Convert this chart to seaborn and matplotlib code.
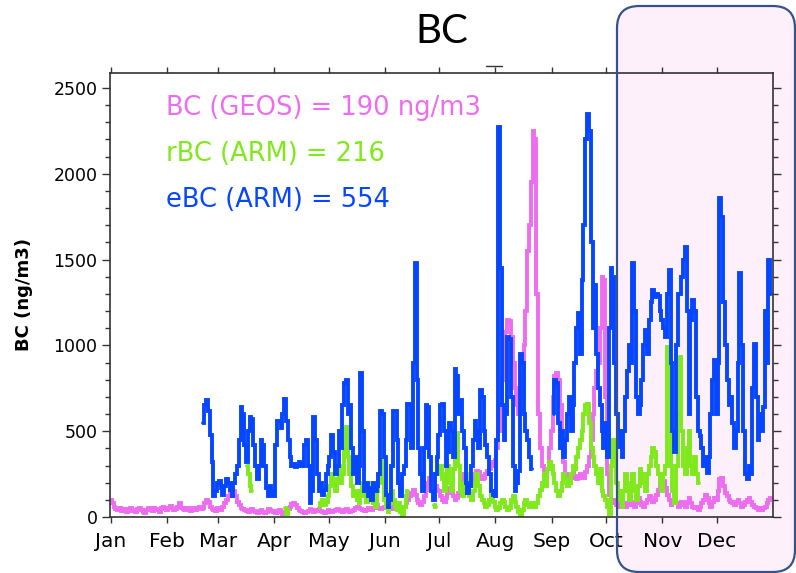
import numpy as np
import pandas as pd
import matplotlib
matplotlib.use("Agg")
import matplotlib.pyplot as plt
import seaborn as sns
from matplotlib.patches import FancyBboxPatch
from matplotlib.lines import Line2D
from matplotlib.transforms import IdentityTransform
from matplotlib.ticker import FixedLocator, MultipleLocator

nan = np.nan

month_names = ["Jan", "Feb", "Mar", "Apr", "May", "Jun",
               "Jul", "Aug", "Sep", "Oct", "Nov", "Dec"]
month_start = [0, 31, 59, 90, 120, 151, 181, 212, 243, 273, 304, 334]

# daily BC (ng/m3), index = day of year
geos_start = 0
geos_bc = [
    100, 80, 60, 45, 40, 50, 35, 45, 40, 30, 45, 50, 35, 40, 30, 45, 55, 40, 30, 25, 40, 55, 45, 35, 50, 45, 40, 30, 50, 60, 45,  # Jan
    40, 55, 65, 50, 40, 45, 60, 80, 55, 45, 40, 50, 45, 35, 50, 45, 40, 55, 60, 45, 50, 80, 100, 90, 60, 45, 40, 35,  # Feb
    50, 45, 40, 60, 80, 100, 120, 150, 165, 150, 120, 90, 70, 55, 45, 40, 35, 30, 40, 45, 35, 30, 25, 35, 40, 30, 25, 30, 45, 40, 35,  # Mar
    30, 25, 35, 40, 30, 20, 25, 30, 45, 60, 75, 80, 70, 55, 40, 35, 30, 25, 30, 35, 45, 40, 30, 35, 40, 45, 35, 30, 25, 30,  # Apr
    40, 35, 30, 35, 40, 45, 40, 35, 30, 40, 45, 35, 30, 35, 40, 50, 60, 55, 45, 40, 35, 40, 50, 45, 40, 50, 60, 70, 55, 45, 50,  # May
    60, 80, 70, 55, 45, 60, 80, 70, 50, 40, 45, 60, 80, 100, 120, 140, 160, 130, 100, 80, 70, 90, 120, 160, 200, 230, 250, 220, 180, 160,  # Jun
    150, 120, 100, 90, 110, 140, 170, 150, 120, 100, 110, 140, 180, 220, 250, 230, 200, 180, 200, 230, 250, 270, 260, 240, 220, 230, 250, 270, 280, 300, 320,  # Jul
    330, 400, 500, 650, 800, 950, 1080, 1150, 1140, 1050, 900, 750, 650, 600, 700, 850, 1000, 1200, 1550, 1700, 1950, 2250, 2200, 1300, 600, 400, 300, 260, 240, 280, 400,  # Aug
    500, 700, 820, 840, 800, 650, 450, 320, 250, 220, 200, 230, 260, 240, 220, 230, 250, 240, 230, 260, 300, 350, 450, 600, 750, 850, 900, 1100, 1400, 1380,  # Sep
    700, 250, 130, 100, 80, 100, 70, 60, 90, 110, 80, 60, 70, 100, 90, 70, 60, 80, 110, 90, 70, 60, 80, 100, 120, 110, 90, 100, 130, 160, 200,  # Oct
    200, 210, 170, 130, 100, 70, 80, 100, 80, 60, 70, 90, 80, 60, 90, 110, 80, 60, 50, 60, 40, 60, 80, 100, 130, 110, 80, 60, 90, 110,  # Nov
    100, 150, 220, 230, 180, 140, 120, 100, 90, 80, 70, 90, 100, 80, 60, 70, 90, 100, 110, 90, 70, 60, 50, 40, 50, 40, 50, 60, 80, 100, 110,  # Dec
]

rbc_start = 75
rbc_arm = [
    300, 250, 180, 150,
    nan, nan, nan, nan, nan, nan, nan, nan, nan, nan, nan, nan, nan, nan, nan, nan, nan,
    50, 20, 40,
    nan, nan, nan, nan, nan, nan, nan, nan, nan, nan, nan, nan, nan, nan, nan, nan,
    60, 80, 100, 70, 90, 120, 180, 250, 200, 150, 220, 300, 200, 250, 400, 525, 350, 250, 180, 120,
    150, 100, 80, 150, 200, 120, 90, 150, 200, 120, 80, 60, 150, 250, 330, 200, 100, 60, 30, 80,
    150, 100, 60, 40, 80, 30, 10, 60, 120, 150,
    nan, nan, nan, nan, nan, nan, nan, nan, nan, nan, nan, nan, nan,
    70, 60,
    nan,
    250, 300, 220, 150, 250, 300, 200, 150, 280, 400, 490, 300, 150, 120, 200, 250, 180, 120, 100, 150,
    200, 250, 180, 120, 100, 80, 60, 70, 100, 150, 90, 60,
    40, 50, 80, 100, 90, 60, 40, 50, 100, 120, 90, 60, 30, 10, 40, 80, 100, 70, 60, 80,
    70, 60, 80, 120, 160, 200, 250, 180, 280, 320,
    300, 250, 200, 150, 120, 150, 200, 250, 220, 180, 200, 250, 300, 280, 350, 400, 450, 500, 600, 650,
    660, 550, 400, 350, 300, 250, 200, 280, 150, 120,
    100, 60, 20, 300, 450, 350, 200, 150, 100, 60, 150, 250, 150, 100, 200, 250, 150, 100, 180, 280,
    250, 200, 150, 250, 300, 350, 400, 380, 300, 250, 200,
    150, 250, 300, 990, 700, 300, 150, 80, 300, 600, 930, 500, 300, 250, 400, 500, 300, 250, 350, 250, 200,
]

ebc_start = 51
ebc_arm = [
    550, 650, 680, 620, 480, 320, 120, 150, 200, 210, 170, 130, 180, 220, 200, 160, 120, 200, 250, 300,
    450, 640, 600, 420, 320, 500, 580, 570, 420, 300, 220, 300, 450, 420, 300, 170, 120, 180, 150, 120,
    420, 560, 560, 520, 600, 690, 560, 450, 350, 300, 310, 290, 300, 320, 310,
    300, 420, 450, 300, 80, 150, 580, 450, 250, 150, 200, 130, 160, 250, 300,
    350, 480, 380, 250, 300, 500, 400, 650, 780, 800, 600, 650, 400, 250, 350,
    200, 300, 840, 500, 150, 200, 120, 170, 100, 200, 150, 180, 250, 620, 600,
    350, 130, 60, 100, 300, 620, 620, 450, 200, 120, 250, 300, 450, 660, 650,
    400, 900, 1480, 800, 400, 250, 150, 400, 650, 640, 350, 150, 100, 250, 350,
    480, 650, 660, 500, 300, 380, 550, 500, 350, 860, 820, 600, 680, 500, 400, 200,
    140, 180, 300, 450, 560, 500, 400, 740, 700, 500, 420, 350, 250, 150, 130, 120,
    450, 2270, 1450, 650, 450, 600, 1050, 1040, 700, 300, 150, 200, 270, 950, 900, 600, 500, 450, 350, 280,
    nan, nan, nan, nan, nan, nan, nan, nan, nan, nan, nan,
    600, 800, 780, 550, 400, 500, 350, 450, 600, 700, 500, 650, 900, 1100, 1190, 950,
    1380, 1700, 2200, 2350, 2250, 1600, 1100, 1350, 950, 750, 650, 500, 400, 550, 350,
    1100, 1450, 1400, 900, 600, 500, 408, 350, 500, 700, 850, 1000, 900, 1480, 1200,
    700, 600, 650, 800, 1000, 1090, 950, 1150, 1250, 1320, 1280, 1300, 1290, 1200,
    1150, 1100, 1050, 1300, 1440, 900, 500, 380, 1000, 1300, 1300, 1400, 1500, 1575, 1200,
    600, 1150, 1265, 1200, 700, 500, 470, 400, 300, 350, 255, 350, 600, 800, 915,
    600, 900, 1860, 1750, 1250, 1000, 800, 650, 700, 550, 400, 500, 900, 1420, 1000, 500,
    250, 220, 300, 250, 750, 1010, 700, 450, 600, 500, 640, 1200, 900, 1500, 1300,
]

series_names = ["BC (GEOS)", "rBC (ARM)", "eBC (ARM)"]
series_means = ["190 ng/m3", "216", "554"]
colors = ["#ee6cf0", "#7fe91c", "#0646ff"]


def to_frame(name, start, values):
    v = np.array(values, dtype=float)
    seg = np.cumsum(np.isnan(v))  # break the line at gaps
    df = pd.DataFrame({"day": start + np.arange(len(v)), "bc": v,
                       "series": name, "seg": seg})
    return df.dropna()


df = pd.concat([
    to_frame(series_names[0], geos_start, geos_bc),
    to_frame(series_names[1], rbc_start, rbc_arm),
    to_frame(series_names[2], ebc_start, ebc_arm),
], ignore_index=True)

sns.set_theme(style="ticks")
plt.rcParams["font.family"] = ["DejaVu Sans"]
plt.rcParams["text.color"] = "black"
plt.rcParams["xtick.labelcolor"] = "black"
plt.rcParams["ytick.labelcolor"] = "black"

W, H = 796, 573
fig = plt.figure(figsize=(W / 100, H / 100), dpi=100)
ax = fig.add_axes([110 / W, 1 - 517 / H, 663 / W, 444 / H])
ax.set_facecolor("none")

sns.lineplot(data=df, x="day", y="bc", hue="series", units="seg", estimator=None,
             hue_order=series_names, palette=colors, linewidth=2.8,
             drawstyle="steps-mid", solid_joinstyle="miter",
             sort=False, legend=False, ax=ax)

ax.set_xlim(-0.5, 365)
ax.set_ylim(0, 2587)
ax.xaxis.set_major_locator(FixedLocator(month_start))
ax.set_xticklabels(month_names)
ax.yaxis.set_major_locator(MultipleLocator(500))
ax.yaxis.set_minor_locator(MultipleLocator(100))
ax.set_xlabel("")
ax.set_ylabel("BC (ng/m3)", fontsize=13, fontweight="bold", color="black")
ax.yaxis.set_label_coords(-0.116, 0.502)

for s in ax.spines.values():
    s.set_color("#333333")
    s.set_linewidth(1.2)
ax.tick_params(axis="y", which="major", length=6, width=1, color="#333333",
               left=True, right=True, labelsize=12.5, pad=3)
ax.tick_params(axis="y", which="minor", length=3.5, width=1, color="#333333",
               left=True, right=True)
ax.tick_params(axis="x", which="major", length=4, width=1, color="#333333",
               bottom=True, top=True, labelsize=14.5, pad=7)
ax.tick_params(axis="x", which="minor", bottom=False, top=False)

# legend as coloured text
for i, (name, mean) in enumerate(zip(series_names, series_means)):
    fig.text(166 / W, 1 - (115 + 46 * i) / H, f"{name} = {mean}",
             color=colors[i], fontsize=18.5, va="baseline", ha="left")

fig.text(442 / W, 1 - 43 / H, "BC", fontsize=29, family="Lato", color="black",
         ha="center", va="baseline")

# highlight box over Oct-Dec
box_fill = FancyBboxPatch((617, 1), 178, 566, boxstyle="round,pad=0,rounding_size=22",
                          transform=IdentityTransform(), facecolor="#fdf0fb",
                          edgecolor="none", zorder=-1)
box_edge = FancyBboxPatch((617, 1), 178, 566, boxstyle="round,pad=0,rounding_size=22",
                          transform=IdentityTransform(), facecolor="none",
                          edgecolor="#36528c", linewidth=1.6, zorder=5)
fig.add_artist(box_fill)
fig.add_artist(box_edge)
fig.add_artist(Line2D([486, 502], [H - 66, H - 66], transform=IdentityTransform(),
                      color="#333333", linewidth=1))

fig.savefig("out.png", dpi=100)
